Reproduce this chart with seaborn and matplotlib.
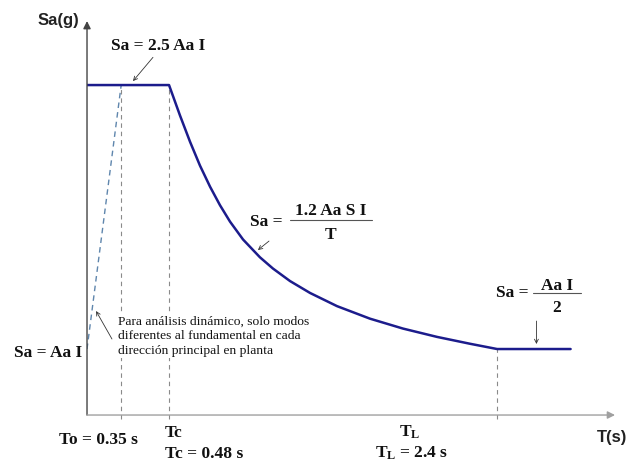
import matplotlib
matplotlib.use("Agg")
import matplotlib.pyplot as plt
import seaborn as sns
import pandas as pd

# design spectrum (schematic period axis, Sa in chart units)
spec_T = [0.0, 0.48, 0.544, 0.603, 0.661, 0.720, 0.778, 0.837, 0.913, 1.012,
          1.088, 1.188, 1.305, 1.463, 1.656, 1.849, 2.048, 2.241, 2.4, 2.83]
spec_Sa = [2.5, 2.5, 2.27, 2.07, 1.89, 1.73, 1.59, 1.465, 1.33, 1.195,
           1.11, 1.015, 0.925, 0.825, 0.73, 0.655, 0.592, 0.54, 0.5, 0.5]

# dynamic-analysis ramp (other modes)
ramp_T = [0.0, 0.2]
ramp_Sa = [0.5, 2.5]

# periods as drawn on the axis: To, Tc, TL
period_pos = [0.2, 0.48, 2.4]
period_top = [2.5, 2.5, 0.5]

x_max = 3.09
y_max = 2.985

sns.set_theme(style="white")
plt.rcParams["font.family"] = ["Liberation Serif", "DejaVu Serif"]
plt.rcParams["mathtext.fontset"] = "custom"
plt.rcParams["mathtext.rm"] = "Liberation Serif"
plt.rcParams["mathtext.bf"] = "Liberation Serif:bold"

spec_df = pd.DataFrame({"T": spec_T, "Sa": spec_Sa})
ramp_df = pd.DataFrame({"T": ramp_T, "Sa": ramp_Sa})

fig = plt.figure(figsize=(6.37, 4.64), dpi=100)
ax = fig.add_axes([0.1366, 0.1034, 0.8289, 0.8491])
ax.set_xlim(0, x_max)
ax.set_ylim(0, y_max)
for s in ax.spines.values():
    s.set_visible(False)
ax.set_xticks([])
ax.set_yticks([])

# dashed guide lines
ax.vlines(period_pos, -0.03, period_top, colors="#8a8a8a", lw=0.8,
          linestyles=(0, (4, 3.5)), clip_on=False)
sns.lineplot(data=ramp_df, x="T", y="Sa", ax=ax, color="#5f86ad", lw=1.0,
             linestyle=(0, (4, 3)), sort=False, estimator=None)
sns.lineplot(data=spec_df, x="T", y="Sa", ax=ax, color="#1c1c8c", lw=1.8,
             sort=False, estimator=None)
ax.set_xlabel("")
ax.set_ylabel("")

# axes with arrow heads
ax.annotate("", xy=(0, y_max), xytext=(0, 0), xycoords="data",
            arrowprops=dict(arrowstyle="-|>", color="#444444", lw=1.0,
                            mutation_scale=11, shrinkA=0, shrinkB=0),
            annotation_clip=False)
ax.annotate("", xy=(x_max, 0), xytext=(0, 0), xycoords="data",
            arrowprops=dict(arrowstyle="-|>", color="#a0a0a0", lw=1.0,
                            mutation_scale=11, shrinkA=0, shrinkB=0),
            annotation_clip=False)

sans = dict(family="Liberation Sans", fontweight="bold", fontsize=12, color="#222222")
bold = dict(fontweight="bold", fontsize=12.5, color="#111111")

ax.text(-0.17, 3.0, "Sa(g)", ha="center", va="center", **sans)
ax.text(3.07, -0.16, "T(s)", ha="center", va="center", **sans)

# formulas
ax.text(0.415, 2.80, "Sa = 2.5 Aa I", ha="center", va="center", **bold)
ax.text(-0.03, 0.477, "Sa = Aa I", ha="right", va="center", **bold)

ax.text(1.047, 1.47, "Sa =", ha="center", va="center", **bold)
ax.text(1.427, 1.55, "1.2 Aa S I", ha="center", va="center", **bold)
ax.plot([1.185, 1.67], [1.477, 1.477], color="#555555", lw=0.8)
ax.text(1.427, 1.37, "T", ha="center", va="center", **bold)

ax.text(2.49, 0.932, "Sa =", ha="center", va="center", **bold)
ax.text(2.75, 0.985, "Aa I", ha="center", va="center", **bold)
ax.plot([2.61, 2.89], [0.924, 0.924], color="#555555", lw=0.8, clip_on=False)
ax.text(2.75, 0.815, "2", ha="center", va="center", **bold)

# period labels
ax.text(0.064, -0.18, "To = 0.35 s", ha="center", va="center", **bold)
ax.text(0.456, -0.13, "Tc", ha="left", va="center", **bold)
ax.text(0.456, -0.285, "Tc = 0.48 s", ha="left", va="center", **bold)
ax.text(1.89, -0.125, r"$\mathbf{T_L}$", ha="center", va="center", **bold)
ax.text(1.90, -0.285, r"$\mathbf{T_L}$ = 2.4 s", ha="center", va="center", **bold)

ax.text(0.181, 0.604,
        "Para análisis dinámico, solo modos\n"
        "diferentes al fundamental en cada\n"
        "dirección principal en planta",
        ha="left", va="center", fontsize=9.7, linespacing=1.3, color="#111111",
        bbox=dict(facecolor="white", edgecolor="none", pad=1.5))

# pointer arrows
arrow = dict(arrowstyle="->", color="#333333", lw=0.6, shrinkA=0, shrinkB=0,
             mutation_scale=7)
ax.annotate("", xy=(0.269, 2.53), xytext=(0.386, 2.71), arrowprops=arrow)
ax.annotate("", xy=(1.0, 1.25), xytext=(1.065, 1.318), arrowprops=arrow)
ax.annotate("", xy=(2.63, 0.538), xytext=(2.63, 0.712), arrowprops=arrow)
ax.annotate("", xy=(0.053, 0.788), xytext=(0.146, 0.576), arrowprops=arrow)

fig.savefig("out.png", dpi=100, facecolor="white")
